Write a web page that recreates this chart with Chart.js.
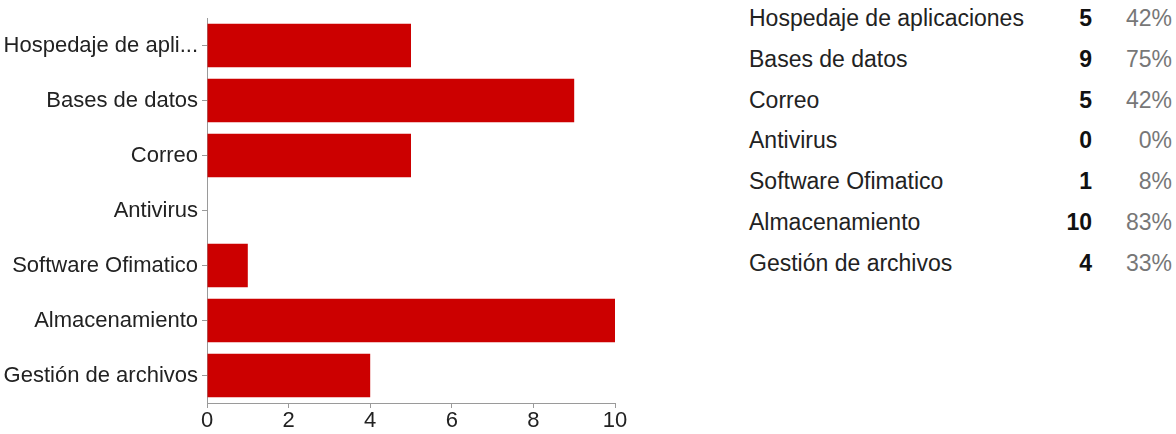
<!DOCTYPE html>
<html>
<head>
<meta charset="utf-8">
<script src="https://cdn.jsdelivr.net/npm/chart.js@4/dist/chart.umd.min.js"></script>
<style>
  html, body { margin: 0; padding: 0; background: #fff; }
  body { width: 1176px; height: 434px; position: relative; overflow: hidden;
         font-family: "Liberation Sans", Arial, sans-serif; }
  #grafico { position: absolute; left: 0; top: 0; width: 640px; height: 434px; }
  #tabla { position: absolute; left: 749px; top: 0; width: 425px; }
  .fila { position: absolute; left: 0; width: 425px; height: 30px; line-height: 30px; font-size: 23px; color: #222; }
  .fila .nombre { position: absolute; left: 0; }
  .fila .cuenta { position: absolute; right: 82px; font-weight: bold; color: #111; text-align: right; }
  .fila .pct { position: absolute; right: 2px; color: #777; text-align: right; }
</style>
</head>
<body>
<div id="grafico"><canvas id="lienzo" width="640" height="434"></canvas></div>
<div id="tabla"></div>
<script>
// Datos
const categorias = [
    'Hospedaje de aplicaciones',
    'Bases de datos',
    'Correo',
    'Antivirus',
    'Software Ofimatico',
    'Almacenamiento',
    'Gestión de archivos',
];
const respuestas = [5, 9, 5, 0, 1, 10, 4];
const porcentajes = ['42%', '75%', '42%', '0%', '8%', '83%', '33%'];
const ticksX = [0, 2, 4, 6, 8, 10];

const ROJO = '#cc0000';
const GRIS_EJE = '#9a9a9a';
const FUENTE = '"Liberation Sans", Arial, sans-serif';

function recortar(texto) {
    return texto.length > 20 ? texto.slice(0, 17) + '...' : texto;
}

new Chart(document.getElementById('lienzo'), {
    type: 'bar',
    data: {
        labels: categorias,
        datasets: [{
            data: respuestas,
            backgroundColor: ROJO,
            borderWidth: 0,
            categoryPercentage: 1,
            barPercentage: 0.79,
        }],
    },
    options: {
        responsive: false,
        animation: false,
        indexAxis: 'y',
        layout: { padding: { top: 18, right: 25, left: 0, bottom: 0 } },
        plugins: { legend: { display: false }, tooltip: { enabled: false } },
        scales: {
            x: {
                min: 0,
                max: 10,
                afterBuildTicks: (s) => { s.ticks = ticksX.map((v) => ({ value: v })); },
                afterFit: (s) => { s.height = 31; },
                border: { color: GRIS_EJE, width: 1 },
                grid: { drawOnChartArea: false, color: GRIS_EJE, tickLength: 5 },
                ticks: { color: '#222', padding: 0, font: { family: FUENTE, size: 22 } },
            },
            y: {
                afterFit: (s) => { s.width = 207; },
                border: { color: GRIS_EJE, width: 1 },
                grid: { drawOnChartArea: false, offset: false, color: GRIS_EJE, tickLength: 5 },
                ticks: {
                    color: '#222',
                    padding: 4,
                    font: { family: FUENTE, size: 22 },
                    callback: function (v) { return recortar(this.getLabelForValue(v)); },
                },
            },
        },
    },
});

// Tabla de resumen a la derecha
const tabla = document.getElementById('tabla');
categorias.forEach((nombre, i) => {
    const fila = document.createElement('div');
    fila.className = 'fila';
    fila.style.top = (3 + i * 40.8) + 'px';
    fila.innerHTML = '<span class="nombre"></span><span class="cuenta"></span><span class="pct"></span>';
    fila.querySelector('.nombre').textContent = nombre;
    fila.querySelector('.cuenta').textContent = respuestas[i];
    fila.querySelector('.pct').textContent = porcentajes[i];
    tabla.appendChild(fila);
});
</script>
</body>
</html>
